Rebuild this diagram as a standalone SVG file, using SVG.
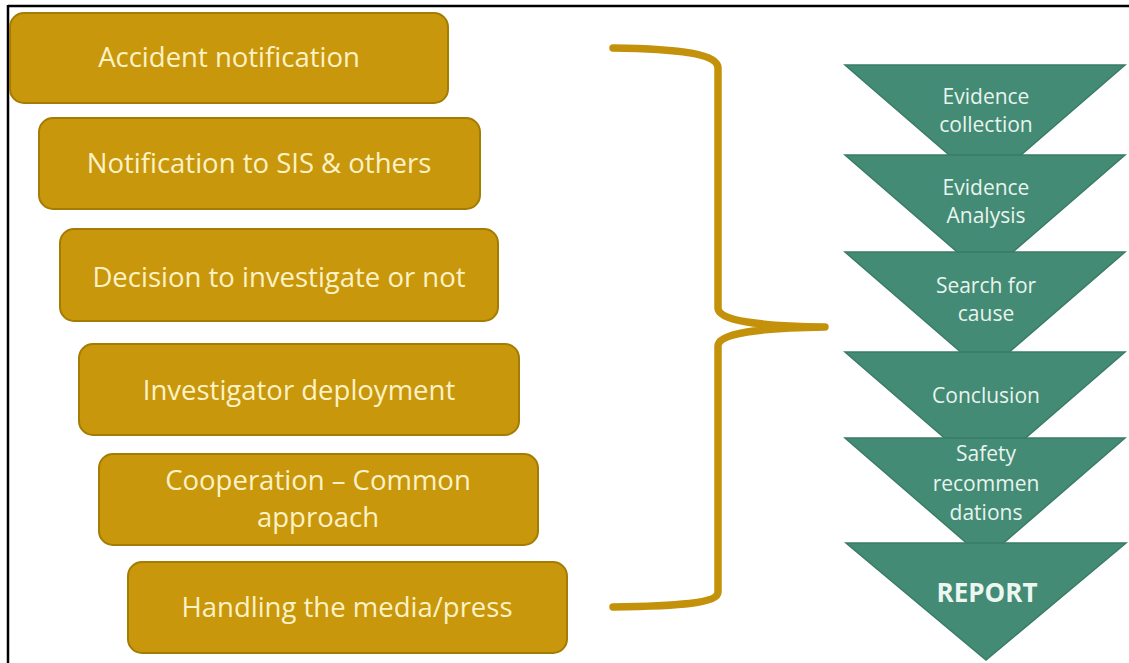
<svg xmlns="http://www.w3.org/2000/svg" width="1129" height="663" viewBox="0 0 1129 663">
  <style>
    .box { fill: #c8970b; stroke: #a47c02; stroke-width: 2; }
    .btxt { font-family: "Open Sans", "Noto Sans", sans-serif; font-size: 27.5px; fill: #fdf2c6; text-anchor: middle; }
    .tri { fill: #438b74; stroke: #3a7c66; stroke-width: 1.5; stroke-linejoin: miter; }
    .ttxt { font-family: "Open Sans", "Noto Sans", sans-serif; font-size: 21px; fill: #e8f4ee; text-anchor: middle; }
    .rtxt { font-family: "Open Sans", "Noto Sans", sans-serif; font-size: 26px; font-weight: bold; fill: #edf7f2; text-anchor: middle; }
    .brace { fill: none; stroke: #c4920a; stroke-width: 7.5; stroke-linecap: round; stroke-linejoin: round; }
    .frame { fill: none; stroke: #000000; stroke-width: 2.5; }
  </style>
  <rect width="1129" height="663" fill="#ffffff"/>
  <g id="frame">
    <line class="frame" x1="8" y1="6" x2="1129" y2="6"/>
    <line class="frame" x1="8" y1="5" x2="8" y2="663"/>
  </g>

  <g id="node-accident-notification">
    <rect class="box" x="10" y="13" width="438" height="90" rx="14"/>
    <text class="btxt" x="229" y="67">Accident notification</text>
  </g>
  <g id="node-notification-sis">
    <rect class="box" x="39" y="118" width="441" height="91" rx="14"/>
    <text class="btxt" x="259" y="173">Notification to SIS &amp; others</text>
  </g>
  <g id="node-decision">
    <rect class="box" x="60" y="229" width="438" height="92" rx="14"/>
    <text class="btxt" x="279" y="287">Decision to investigate or not</text>
  </g>
  <g id="node-investigator">
    <rect class="box" x="79" y="344" width="440" height="91" rx="14"/>
    <text class="btxt" x="299" y="400">Investigator deployment</text>
  </g>
  <g id="node-cooperation">
    <rect class="box" x="99" y="454" width="439" height="91" rx="14"/>
    <text class="btxt" x="318" y="490">Cooperation – Common</text>
    <text class="btxt" x="318" y="527">approach</text>
  </g>
  <g id="node-media">
    <rect class="box" x="128" y="562" width="439" height="91" rx="14"/>
    <text class="btxt" x="347" y="617">Handling the media/press</text>
  </g>

  <g id="connectors">
    <path class="brace" d="M613,48 C682,49 718,54 718,68 L718,308 C718,321 760,326 825,327 C760,328 718,333 718,346 L718,592 C718,603 682,606 613,607"/>
  </g>

  <g id="node-evidence-collection">
    <polygon class="tri" points="845,65 1125,65 985,186"/>
    <text class="ttxt" x="986" y="104">Evidence</text>
    <text class="ttxt" x="986" y="132">collection</text>
  </g>
  <g id="node-evidence-analysis">
    <polygon class="tri" points="845,155 1125,155 985,276"/>
    <text class="ttxt" x="986" y="195">Evidence</text>
    <text class="ttxt" x="986" y="223">Analysis</text>
  </g>
  <g id="node-search-cause">
    <polygon class="tri" points="845,252 1125,252 985,373"/>
    <text class="ttxt" x="986" y="293">Search for</text>
    <text class="ttxt" x="986" y="321">cause</text>
  </g>
  <g id="node-conclusion">
    <polygon class="tri" points="845,352 1125,352 985,473"/>
    <text class="ttxt" x="986" y="403">Conclusion</text>
  </g>
  <g id="node-safety">
    <polygon class="tri" points="845,438 1125,438 985,559"/>
    <text class="ttxt" x="986" y="461">Safety</text>
    <text class="ttxt" x="986" y="491">recommen</text>
    <text class="ttxt" x="986" y="520">dations</text>
  </g>
  <g id="node-report">
    <polygon class="tri" points="846,543 1126,543 986,660"/>
    <text class="rtxt" x="987" y="602">REPORT</text>
  </g>
</svg>
